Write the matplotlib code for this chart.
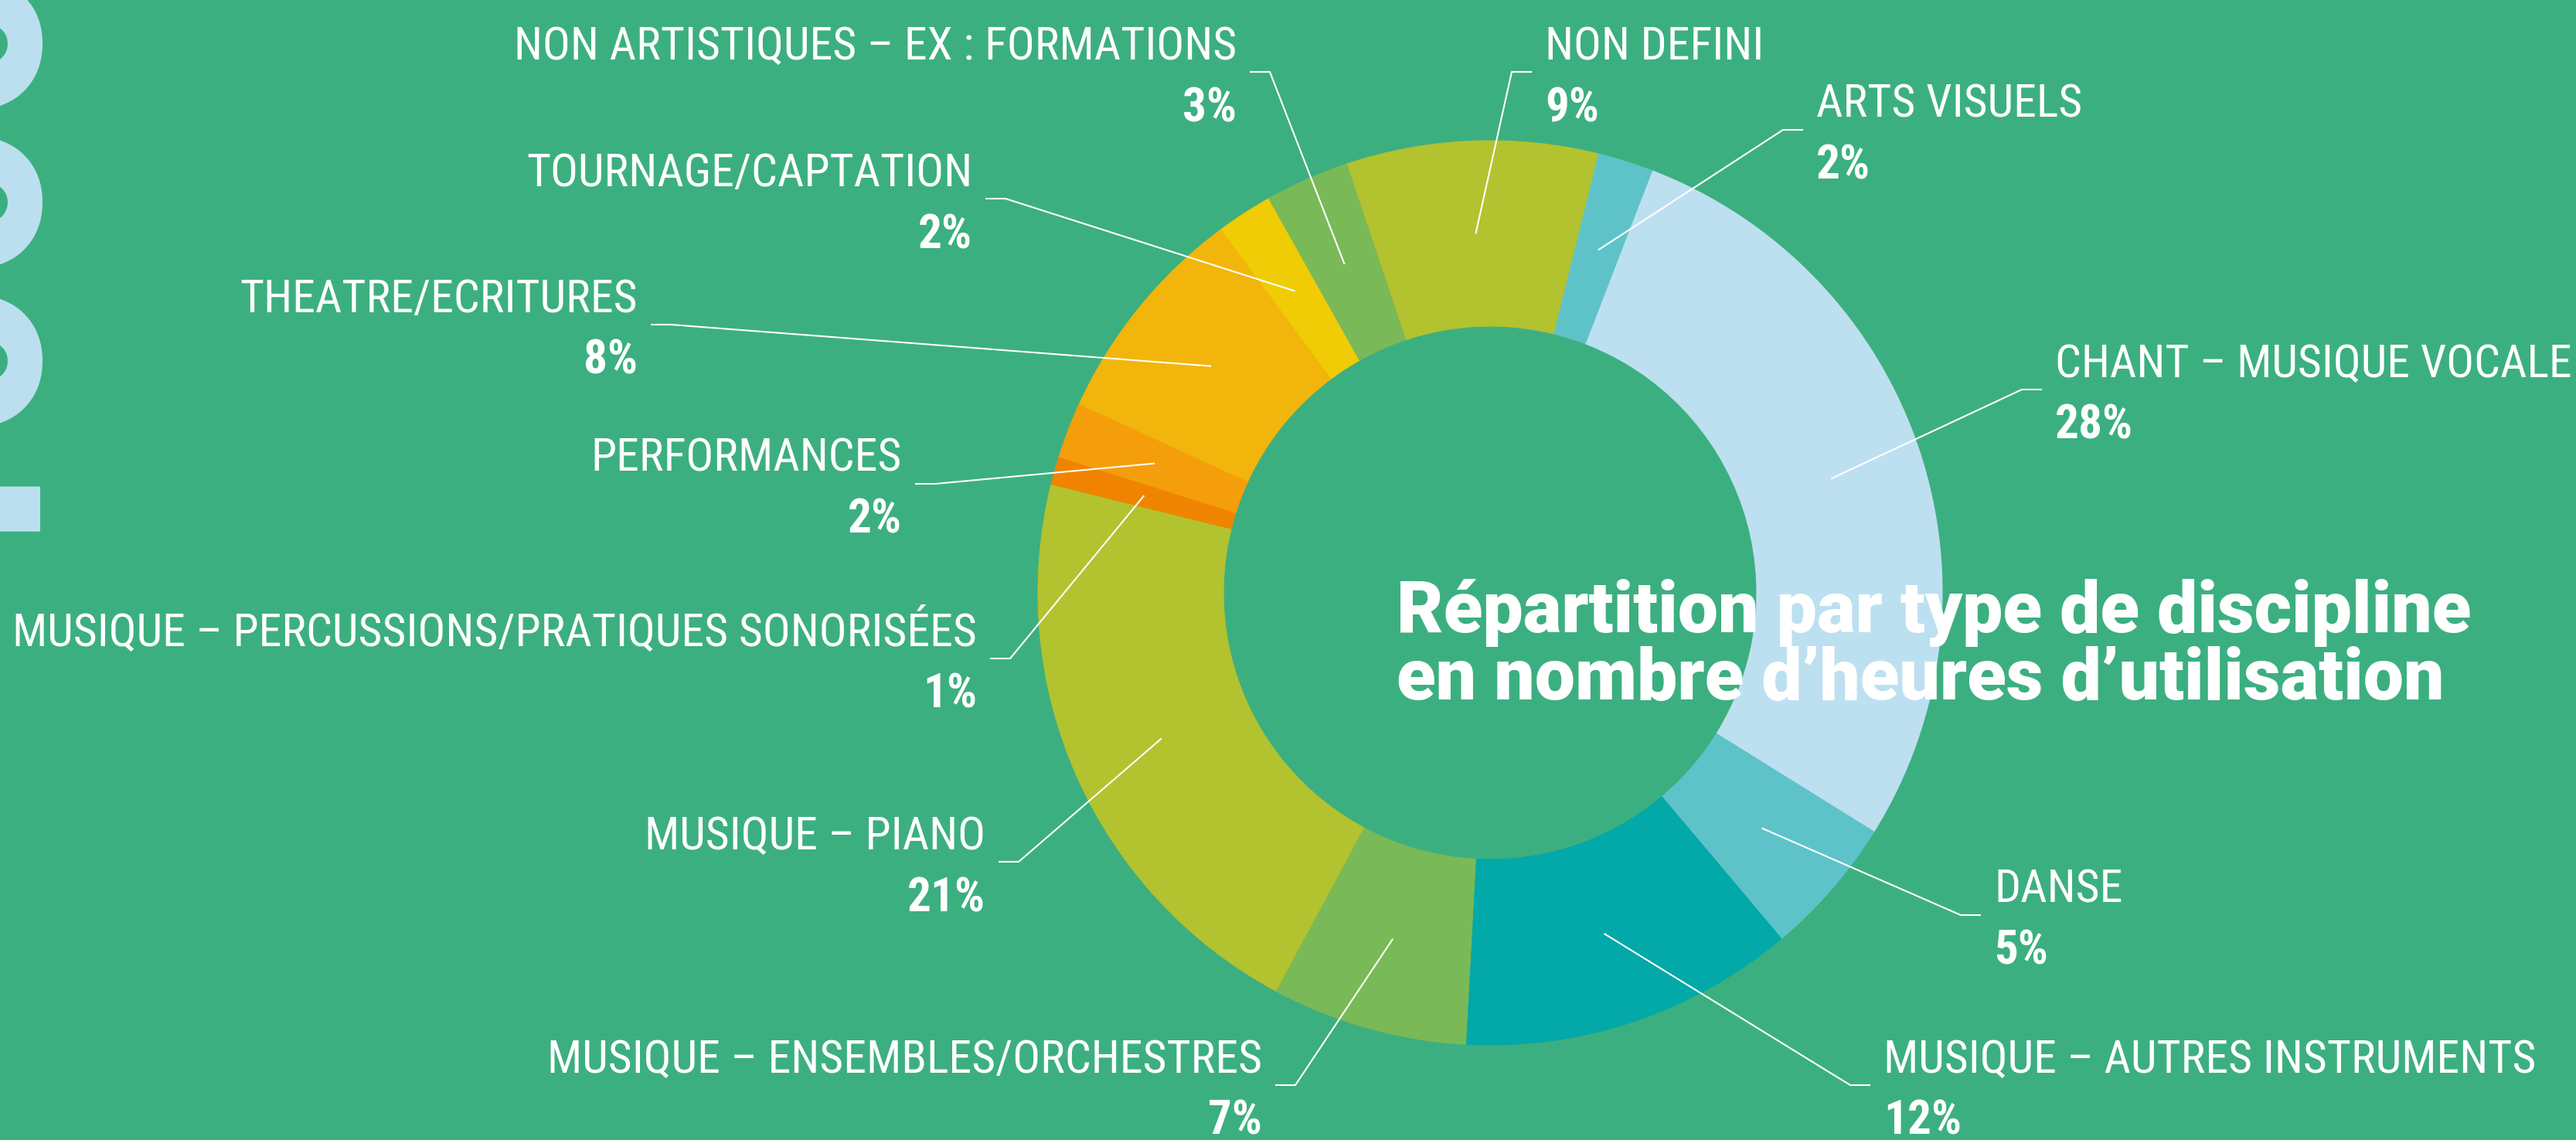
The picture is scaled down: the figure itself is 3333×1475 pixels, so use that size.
import matplotlib
matplotlib.use("Agg")
import matplotlib.pyplot as plt
import numpy as np

W, H = 3333, 1475
BG = "#3caf80"

# ---- data (clockwise from the top) ----
categories = [
    "NON DEFINI",
    "ARTS VISUELS",
    "CHANT – MUSIQUE VOCALE",
    "DANSE",
    "MUSIQUE – AUTRES INSTRUMENTS",
    "MUSIQUE – ENSEMBLES/ORCHESTRES",
    "MUSIQUE – PIANO",
    "MUSIQUE – PERCUSSIONS/PRATIQUES SONORISÉES",
    "PERFORMANCES",
    "THEATRE/ECRITURES",
    "TOURNAGE/CAPTATION",
    "NON ARTISTIQUES – EX : FORMATIONS",
]
values = [9, 2, 28, 5, 12, 7, 21, 1, 2, 8, 2, 3]
pct_labels = ["9%", "2%", "28%", "5%", "12%", "7%", "21%", "1%", "2%", "8%", "2%", "3%"]

colors = ["#b3c22f", "#5ec3c9", "#bde0f0", "#5ec3c9", "#03a8a8", "#7ab957",
          "#b3c22f", "#f08400", "#f49e0c", "#f2b50b", "#efcc05", "#7ab957"]

title_lines = ["Répartition par type de discipline", "en nombre d’heures d’utilisation"]
big_text = "1000"

# ---- layout (pixel positions, y measured from the top) ----
# (anchor x, name baseline y, side of chart)
label_layout = [
    (1999, 77, "R"),
    (2350, 152, "R"),
    (2659, 488, "R"),
    (2580, 1168, "R"),
    (2437, 1388, "R"),
    (1633, 1388, "L"),
    (1275, 1099, "L"),
    (1264, 836, "L"),
    (1167, 610, "L"),
    (825, 404, "L"),
    (1258, 241, "L"),
    (1600, 77, "L"),
]

CX, CY = 1928, 767
R_OUT, R_IN = 585, 345

NARROW = ["Liberation Sans Narrow", "Roboto Condensed", "Open Sans Condensed", "Liberation Sans"]
HEAVY = ["Roboto", "Lato", "DejaVu Sans"]

fig = plt.figure(figsize=(W / 100, H / 100), dpi=100, facecolor=BG)
ax = fig.add_axes([0, 0, 1, 1])
ax.set_facecolor(BG)

wedges, _ = ax.pie(values, colors=colors, startangle=108.5, counterclock=False,
                   radius=R_OUT, center=(CX, H - CY),
                   wedgeprops=dict(width=R_OUT - R_IN, linewidth=0.8), frame=True)
for w in wedges:
    w.set_edgecolor(w.get_facecolor())

ax.set_xlim(0, W)
ax.set_ylim(0, H)
ax.set_aspect("equal")
ax.axis("off")

# big decorative number at the left edge
ax.text(24, H - 745, big_text, rotation=90, rotation_mode="anchor", ha="left", va="baseline",
        fontsize=255, color="#bde0f0", family=HEAVY, fontweight="black", zorder=0)

r_mid = (R_OUT + R_IN) / 2
for w, name, pct, (x, yb, side) in zip(wedges, categories, pct_labels, label_layout):
    th = np.deg2rad((w.theta1 + w.theta2) / 2)
    px = CX + r_mid * np.cos(th)
    py = (H - CY) + r_mid * np.sin(th)
    yt = H - (yb + 16)
    if side == "L":
        ha = "right"
        x0, x1 = x + 17, x + 43
    else:
        ha = "left"
        x0, x1 = x - 17, x - 43
    ax.plot([x0, x1, px], [yt, yt, py], color="white", lw=1.5, solid_capstyle="butt", zorder=5)
    ax.text(x, H - yb, name, ha=ha, va="baseline", fontsize=43, color="white", family=NARROW, zorder=6)
    ax.text(x, H - yb - 80, pct, ha=ha, va="baseline", fontsize=44, color="white",
            family=NARROW, fontweight="bold", zorder=6)

ax.text(1807, H - 818, title_lines[0], ha="left", va="baseline", fontsize=67,
        color="white", family=HEAVY, fontweight="black", zorder=7)
ax.text(1807, H - 905, title_lines[1], ha="left", va="baseline", fontsize=67,
        color="white", family=HEAVY, fontweight="black", zorder=7)

fig.savefig("out.png", dpi=100, facecolor=BG)
